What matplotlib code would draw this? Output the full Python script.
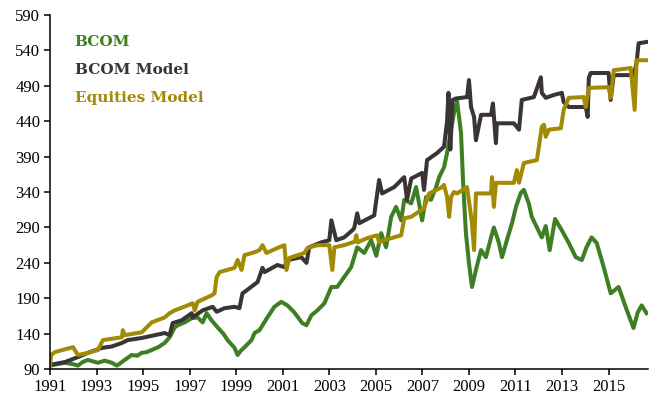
import matplotlib
matplotlib.use("Agg")
import matplotlib.pyplot as plt

# ---- data (decimal years, index level) ----
bcom_dates = [1991.00, 1991.30, 1991.64, 1992.00, 1992.20, 1992.40, 1992.63, 1992.85, 1993.06, 1993.35,
              1993.66, 1993.87, 1994.05, 1994.21, 1994.51, 1994.75, 1994.94, 1995.15, 1995.37, 1995.65,
              1995.93, 1996.14, 1996.36, 1996.49, 1996.79, 1997.09, 1997.34, 1997.56, 1997.73, 1997.94,
              1998.20, 1998.45, 1998.63, 1998.93, 1999.06, 1999.20, 1999.36, 1999.66, 1999.79, 2000.00,
              2000.34, 2000.64, 2000.94, 2001.20, 2001.50, 2001.84, 2002.02, 2002.23, 2002.49, 2002.79,
              2003.09, 2003.34, 2003.64, 2003.94, 2004.07, 2004.20, 2004.50, 2004.80, 2005.02, 2005.23,
              2005.44, 2005.66, 2005.87, 2006.09, 2006.22, 2006.52, 2006.73, 2006.99, 2007.16, 2007.37,
              2007.59, 2007.72, 2007.93, 2008.06, 2008.23, 2008.36, 2008.49, 2008.58, 2008.66, 2008.75,
              2008.87, 2009.00, 2009.13, 2009.30, 2009.52, 2009.73, 2009.95, 2010.07, 2010.29, 2010.42,
              2010.63, 2010.85, 2011.02, 2011.23, 2011.36, 2011.57, 2011.70, 2011.92, 2012.13, 2012.30,
              2012.47, 2012.70, 2012.99, 2013.29, 2013.59, 2013.85, 2014.05, 2014.27, 2014.49, 2014.79,
              2015.09, 2015.43, 2015.73, 2016.07, 2016.25, 2016.42, 2016.63]
bcom_vals = [95, 97, 99, 97, 95, 100, 103, 101, 99, 102,
             99, 95, 99, 103, 110, 109, 113, 114, 117, 121,
             127, 135, 149, 152, 156, 162, 163, 156, 169, 159,
             149, 140, 131, 120, 110, 116, 121, 131, 141, 145,
             163, 178, 185, 180, 170, 155, 152, 166, 173, 183,
             206, 206, 220, 234, 248, 262, 254, 272, 250, 282,
             262, 305, 319, 300, 329, 324, 347, 300, 333, 329,
             347, 361, 375, 395, 428, 452, 468, 445, 423, 353,
             282, 240, 206, 230, 258, 248, 276, 290, 268, 248,
             272, 296, 319, 339, 343, 324, 305, 290, 276, 292,
             258, 302, 286, 268, 248, 244, 262, 276, 268, 234,
             197, 206, 178, 148, 170, 180, 169]

model_dates = [1991.00, 1991.64, 1992.20, 1992.63, 1993.23, 1993.66, 1994.09, 1994.34, 1994.94, 1995.37,
               1995.93, 1996.14, 1996.27, 1996.66, 1997.09, 1997.13, 1997.56, 1997.99, 1998.16, 1998.50,
               1998.93, 1999.14, 1999.27, 1999.36, 1999.92, 2000.13, 2000.22, 2000.77, 2001.07, 2001.20,
               2001.80, 2002.02, 2002.14, 2002.66, 2003.00, 2003.09, 2003.30, 2003.64, 2003.99, 2004.07,
               2004.20, 2004.29, 2004.93, 2005.14, 2005.27, 2005.79, 2006.22, 2006.34, 2006.52, 2006.99,
               2007.07, 2007.20, 2007.63, 2007.93, 2008.06, 2008.12, 2008.20, 2008.30, 2008.44, 2008.92,
               2009.00, 2009.09, 2009.22, 2009.30, 2009.52, 2009.95, 2010.03, 2010.16, 2010.20, 2010.93,
               2011.15, 2011.27, 2011.79, 2012.09, 2012.13, 2012.30, 2012.65, 2012.99, 2013.07, 2013.29,
               2014.02, 2014.10, 2014.15, 2014.23, 2015.00, 2015.09, 2015.22, 2016.07, 2016.20, 2016.29,
               2016.68]
model_vals = [96, 100, 107, 113, 120, 122, 127, 131, 134, 137,
              141, 138, 155, 159, 169, 163, 173, 178, 171, 176,
              178, 176, 197, 199, 213, 233, 227, 237, 234, 244,
              248, 240, 262, 269, 272, 300, 272, 276, 286, 289,
              310, 296, 307, 357, 338, 347, 361, 329, 359, 367,
              343, 385, 395, 404, 440, 480, 400, 470, 472, 474,
              498, 460, 446, 413, 449, 449, 465, 409, 437, 437,
              428, 470, 474, 502, 480, 473, 477, 480, 467, 460,
              460, 446, 501, 508, 508, 470, 505, 505, 522, 550,
              552]

eq_dates = [1991.00, 1991.05, 1991.21, 1991.64, 1991.99, 1992.20, 1992.63, 1993.06, 1993.27, 1994.09,
            1994.13, 1994.21, 1994.94, 1995.37, 1995.93, 1996.14, 1996.36, 1996.92, 1997.13, 1997.22,
            1997.34, 1997.94, 1998.07, 1998.16, 1998.29, 1998.93, 1999.06, 1999.23, 1999.36, 1999.79,
            2000.00, 2000.13, 2000.30, 2000.77, 2001.07, 2001.16, 2001.29, 2001.93, 2002.06, 2002.49,
            2003.00, 2003.13, 2003.22, 2003.64, 2004.10, 2004.16, 2004.22, 2004.63, 2005.06, 2005.14,
            2005.36, 2006.09, 2006.22, 2006.52, 2007.07, 2007.29, 2007.80, 2007.93, 2008.06, 2008.15,
            2008.23, 2008.36, 2008.49, 2008.92, 2009.13, 2009.22, 2009.30, 2009.95, 2009.99, 2010.07,
            2010.16, 2010.93, 2011.06, 2011.15, 2011.36, 2011.92, 2012.13, 2012.22, 2012.30, 2012.43,
            2012.95, 2013.07, 2013.29, 2013.93, 2014.02, 2014.15, 2015.00, 2015.09, 2015.22, 2015.95,
            2016.12, 2016.20, 2016.68]
eq_vals = [95, 110, 114, 118, 121, 110, 113, 117, 131, 135,
           145, 138, 142, 156, 163, 169, 173, 180, 183, 173,
           185, 194, 197, 220, 227, 233, 244, 230, 251, 255,
           258, 265, 254, 261, 265, 230, 247, 254, 261, 265,
           265, 230, 262, 265, 270, 279, 269, 275, 279, 269,
           272, 279, 303, 305, 317, 338, 346, 350, 333, 305,
           333, 340, 338, 347, 296, 258, 338, 338, 361, 319,
           353, 353, 371, 353, 381, 385, 432, 435, 418, 428,
           430, 456, 473, 474, 460, 487, 488, 473, 512, 515,
           456, 526, 526]

series_names = ["BCOM", "BCOM Model", "Equities Model"]
colors = ["#3F7F24", "#3A3534", "#A38A05"]
xtick_years = list(range(1991, 2016, 2))
ytick_vals = list(range(90, 591, 50))

serif = ["Liberation Serif", "DejaVu Serif"]
legend_font = ["DejaVu Serif"]

fig = plt.figure(figsize=(6.49, 4.03), dpi=100)
ax = fig.add_axes([0.077, 0.084, 0.921, 0.879])

for d, v, c in zip([bcom_dates, model_dates, eq_dates], [bcom_vals, model_vals, eq_vals], colors):
    ax.plot(d, v, color=c, lw=2.9, solid_joinstyle="round")

ax.set_xlim(1991, 2016.68)
ax.set_ylim(90, 590)
ax.set_xticks(xtick_years)
ax.set_xticklabels([str(y) for y in xtick_years], family=serif, fontsize=12)
ax.set_yticks(ytick_vals)
ax.set_yticklabels([str(v) for v in ytick_vals], family=serif, fontsize=12)
for s in ["top", "right"]:
    ax.spines[s].set_visible(False)
for s in ["left", "bottom"]:
    ax.spines[s].set_linewidth(1.1)
ax.tick_params(direction="out", length=4, width=1.1, pad=3)

ys = [0.895, 0.826, 0.757]
for name, c, y in zip(series_names, colors, ys):
    fig.text(0.115, y, name, color=c, family=legend_font, fontweight="bold", fontsize=11, va="center")

fig.savefig("out.png", dpi=100)
